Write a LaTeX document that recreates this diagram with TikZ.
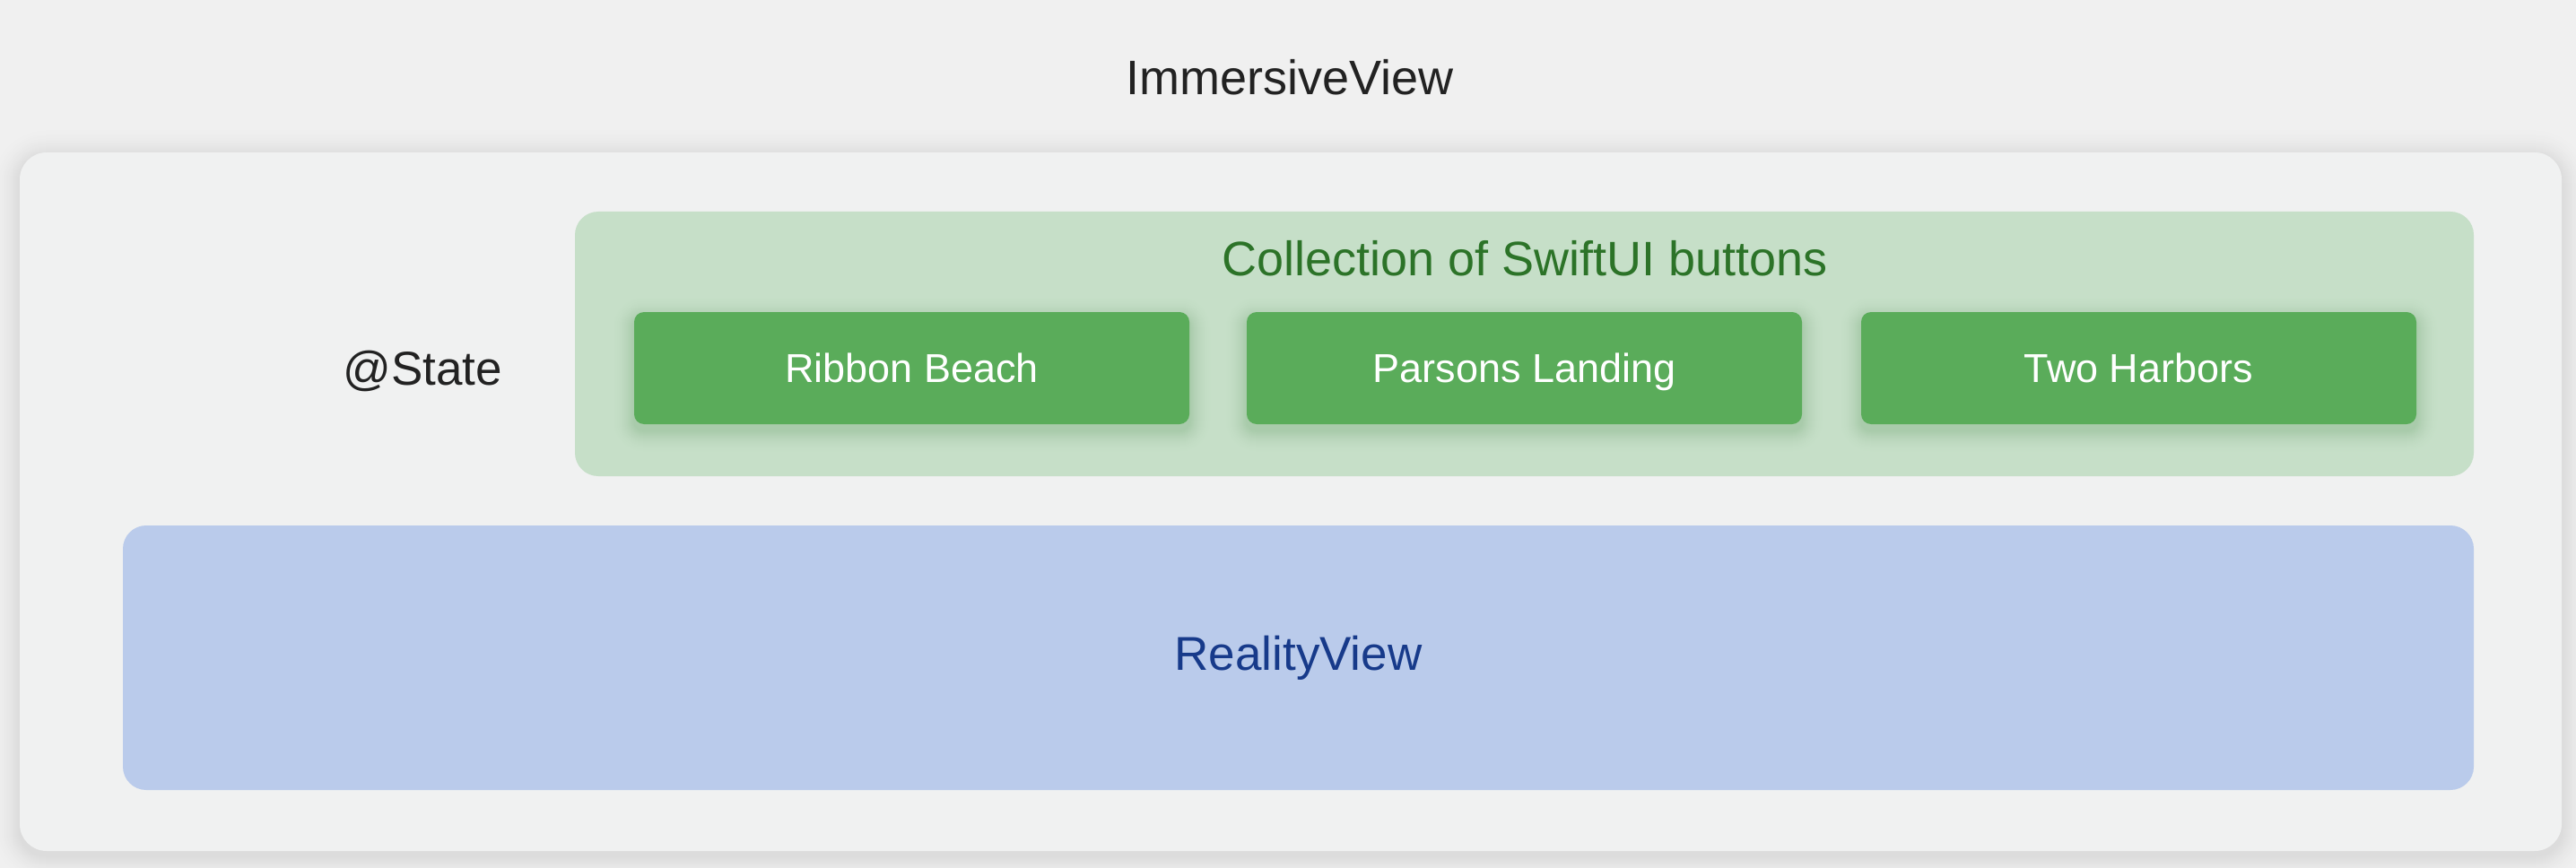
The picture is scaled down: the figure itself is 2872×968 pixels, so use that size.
\documentclass[tikz,border=0pt]{standalone}
\usepackage{fontspec}
\setmainfont{Liberation Sans}
\definecolor{bgc}{HTML}{F0F0F0}
\definecolor{panelc}{HTML}{F0F1F1}
\definecolor{outershadow}{HTML}{DCDCDC}
\definecolor{greenbg}{HTML}{C6DFC8}
\definecolor{btnshadow}{HTML}{A9CBAB}
\definecolor{btngreen}{HTML}{5AAC5A}
\definecolor{greentext}{HTML}{2C7328}
\definecolor{bluebg}{HTML}{BACBEB}
\definecolor{bluetext}{HTML}{173A8A}
\definecolor{darktext}{HTML}{222222}
% x1 y1 x2 y2 radius steps darkcolor basecolor yoffset
\newcommand\mysoftshadow[9]{%
  \foreach \i in {#6,...,1}{%
    \pgfmathsetmacro\rr{#5+\i}%
    \pgfmathsetmacro\pct{100*(1-(\i-1)/#6)^2}%
    \fill[#7!\pct!#8,rounded corners=\rr pt] (#1-\i,#2-\i+#9) rectangle (#3+\i,#4+\i+#9);
  }}
\tikzset{
  labeltext/.style={text=darktext, font=\fontsize{54}{64}\selectfont, inner sep=0},
  panel/.style={fill=panelc, rounded corners=30pt, inner sep=0},
  container/.style={fill=greenbg, rounded corners=26pt, inner sep=0},
  btn/.style={fill=btngreen, rounded corners=11pt, text=white,
    font=\fontsize{45}{54}\selectfont, minimum width=619pt, minimum height=125pt, inner sep=0,
    text height=37pt, text depth=5pt},
  reality/.style={fill=bluebg, rounded corners=26pt, inner sep=0, text=bluetext,
    font=\fontsize{53}{64}\selectfont},
}
\begin{document}
\begin{tikzpicture}[x=1pt,y=-1pt]
\fill[bgc] (0,0) rectangle (2872,968);
\useasboundingbox (0,0) rectangle (2872,968);
% outer panel
\mysoftshadow{22}{170}{2856}{949}{30}{34}{outershadow}{bgc}{5}
\node[panel, minimum width=2834pt, minimum height=779pt] (outer) at (1439,559.5) {};
\node[labeltext] (title) at (1438,86) {ImmersiveView};
\node[labeltext, font=\fontsize{53}{64}\selectfont, anchor=base] (state) at (471,429) {@State};
% green container
\node[container, minimum width=2117pt, minimum height=295pt] (coll) at (1699.5,383.5) {};
\node[text=greentext, font=\fontsize{54}{64}\selectfont, inner sep=0] (colltitle) at (1700,288) {Collection of SwiftUI buttons};
% buttons
\mysoftshadow{707}{348}{1326}{473}{11}{26}{btnshadow}{greenbg}{7}
\mysoftshadow{1390}{348}{2009}{473}{11}{26}{btnshadow}{greenbg}{7}
\mysoftshadow{2075}{348}{2694}{473}{11}{26}{btnshadow}{greenbg}{7}
\node[btn] (ribbon) at (1016.5,410.5) {Ribbon Beach};
\node[btn] (parsons) at (1699.5,410.5) {Parsons Landing};
\node[btn] (harbors) at (2384.5,410.5) {Two Harbors};
% reality view
\node[reality, minimum width=2621pt, minimum height=295pt] (rv) at (1447.5,733.5) {RealityView};
\end{tikzpicture}
\end{document}
